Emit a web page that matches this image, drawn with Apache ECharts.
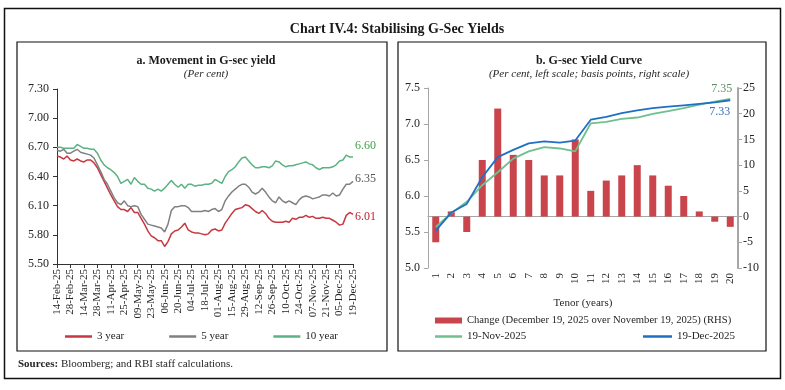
<!DOCTYPE html>
<html><head><meta charset="utf-8">
<script src="https://cdn.jsdelivr.net/npm/echarts@6/dist/echarts.min.js"></script>
<style>html,body{margin:0;padding:0;background:#fff}#c{width:785px;height:390px}</style>
</head><body><div id="c"></div><script>
// ---------- Panel a: daily-ish G-sec yields (per cent) ----------
const dates = ['14-Feb-25','18-Feb-25','21-Feb-25','25-Feb-25','28-Feb-25','04-Mar-25','07-Mar-25','11-Mar-25','14-Mar-25','18-Mar-25','21-Mar-25','25-Mar-25','28-Mar-25','01-Apr-25','04-Apr-25','08-Apr-25','11-Apr-25','15-Apr-25','18-Apr-25','22-Apr-25','25-Apr-25','29-Apr-25','02-May-25','06-May-25','09-May-25','13-May-25','16-May-25','20-May-25','23-May-25','27-May-25','30-May-25','03-Jun-25','06-Jun-25','10-Jun-25','13-Jun-25','17-Jun-25','20-Jun-25','24-Jun-25','27-Jun-25','01-Jul-25','04-Jul-25','08-Jul-25','11-Jul-25','15-Jul-25','18-Jul-25','22-Jul-25','25-Jul-25','29-Jul-25','01-Aug-25','05-Aug-25','08-Aug-25','12-Aug-25','15-Aug-25','19-Aug-25','22-Aug-25','26-Aug-25','29-Aug-25','02-Sep-25','05-Sep-25','09-Sep-25','12-Sep-25','16-Sep-25','19-Sep-25','23-Sep-25','26-Sep-25','30-Sep-25','03-Oct-25','07-Oct-25','10-Oct-25','14-Oct-25','17-Oct-25','21-Oct-25','24-Oct-25','28-Oct-25','31-Oct-25','04-Nov-25','07-Nov-25','11-Nov-25','14-Nov-25','18-Nov-25','21-Nov-25','25-Nov-25','28-Nov-25','02-Dec-25','05-Dec-25','09-Dec-25','12-Dec-25','16-Dec-25','19-Dec-25'];
const yield3 = [6.61,6.60,6.58,6.61,6.57,6.56,6.58,6.56,6.55,6.57, 6.57,6.54,6.49,6.42,6.35,6.28,6.21,6.15,6.09,6.06, 6.06,6.04,6.08,6.03,6.03,5.97,5.91,5.84,5.79,5.77, 5.74,5.74,5.68,5.73,5.81,5.84,5.85,5.88,5.92,5.85, 5.83,5.82,5.82,5.81,5.80,5.81,5.85,5.86,5.84,5.85, 5.92,5.97,6.02,6.06,6.07,6.08,6.11,6.10,6.07,6.04, 6.02,6.05,6.02,5.97,5.94,5.93,5.93,5.93,5.94,5.93, 5.97,5.96,5.98,5.98,6.00,5.98,5.99,5.97,5.97,5.98, 5.97,5.97,5.95,5.93,5.90,5.91,6.00,6.03,6.01];
const yield5 = [6.67,6.66,6.68,6.64,6.64,6.66,6.68,6.65,6.64,6.63, 6.62,6.59,6.52,6.45,6.37,6.32,6.25,6.18,6.13,6.11, 6.15,6.10,6.09,6.10,6.09,6.01,5.96,5.91,5.90,5.89, 5.88,5.87,5.83,5.91,6.05,6.09,6.09,6.10,6.10,6.08, 6.04,6.04,6.04,6.04,6.05,6.04,6.06,6.07,6.04,6.06, 6.15,6.20,6.24,6.27,6.30,6.32,6.32,6.29,6.24,6.22, 6.24,6.28,6.24,6.19,6.15,6.13,6.19,6.15,6.13,6.15, 6.13,6.11,6.16,6.19,6.20,6.19,6.17,6.18,6.19,6.21, 6.21,6.20,6.23,6.20,6.21,6.27,6.32,6.32,6.35];
const yield10 = [6.70,6.70,6.69,6.69,6.69,6.69,6.73,6.71,6.69,6.69, 6.68,6.68,6.64,6.57,6.52,6.49,6.47,6.44,6.40,6.33, 6.35,6.37,6.32,6.39,6.35,6.32,6.32,6.28,6.27,6.25, 6.27,6.25,6.28,6.32,6.36,6.32,6.29,6.32,6.28,6.32, 6.32,6.30,6.31,6.31,6.32,6.32,6.33,6.37,6.35,6.33, 6.40,6.45,6.47,6.50,6.55,6.59,6.60,6.56,6.52,6.49, 6.49,6.50,6.50,6.49,6.51,6.56,6.55,6.52,6.50,6.51, 6.51,6.52,6.53,6.54,6.55,6.53,6.52,6.49,6.47,6.49, 6.49,6.49,6.50,6.52,6.56,6.57,6.62,6.60,6.60];
const leftTicks = [5.50, 5.80, 6.10, 6.40, 6.70, 7.00, 7.30];

// ---------- Panel b: yield curve ----------
const tenors = ['1','2','3','4','5','6','7','8','9','10','11','12','13','14','15','16','17','18','19','20'];
const change = [-5,1,-3,11,21,12,11,8,8,15,5,7,8,10,8,6,4,1,-1,-2];
const nov19 = [5.57,5.76,5.92,6.15,6.33,6.52,6.62,6.68,6.66,6.62,7.01,7.03,7.07,7.09,7.14,7.18,7.22,7.27,7.31,7.35];
const dec19 = [5.52,5.77,5.89,6.26,6.54,6.64,6.73,6.76,6.74,6.77,7.06,7.10,7.15,7.19,7.22,7.24,7.26,7.28,7.30,7.33];

const F = '"Liberation Serif", "DejaVu Serif", serif';
const TXT = '#262626';
const RED = '#C8373F', GRAY = '#808080', GREEN = '#5CB282';
const NOVC = '#6FBF8F', DECC = '#1F6FC5', BARC = '#C9454B';

const chart = echarts.init(document.getElementById('c'), null, {renderer: 'canvas'});

const legText = {fontFamily: F, fontSize: 11, color: TXT};
const option = {
  backgroundColor: '#ffffff',
  animation: false,
  textStyle: {fontFamily: F, color: TXT},
  title: [
    {text: 'Chart IV.4: Stabilising G-Sec Yields', left: 392, top: 17, textAlign: 'center',
     textStyle: {fontFamily: F, fontSize: 14, fontWeight: 'bold', color: '#1a1a1a'}},
    {text: 'a. Movement in G-sec yield', left: 201, top: 50, textAlign: 'center',
     textStyle: {fontFamily: F, fontSize: 12, fontWeight: 'bold', color: '#1a1a1a'}},
    {text: '(Per cent)', left: 201, top: 64, textAlign: 'center',
     textStyle: {fontFamily: F, fontSize: 11, fontStyle: 'italic', fontWeight: 'normal', color: TXT}},
    {text: 'b. G-sec Yield Curve', left: 584, top: 50, textAlign: 'center',
     textStyle: {fontFamily: F, fontSize: 12, fontWeight: 'bold', color: '#1a1a1a'}},
    {text: '(Per cent, left scale; basis points, right scale)', left: 584, top: 64, textAlign: 'center',
     textStyle: {fontFamily: F, fontSize: 11, fontStyle: 'italic', fontWeight: 'normal', color: TXT}}
  ],
  graphic: [
    {type: 'rect', shape: {x: 4.5, y: 8.5, width: 776, height: 370}, style: {fill: 'none', stroke: '#111', lineWidth: 1.5}, silent: true},
    {type: 'rect', shape: {x: 17, y: 42, width: 370, height: 309}, style: {fill: 'none', stroke: '#111', lineWidth: 1.2}, silent: true},
    {type: 'rect', shape: {x: 398, y: 42, width: 368, height: 309}, style: {fill: 'none', stroke: '#111', lineWidth: 1.2}, silent: true},
    {type: 'text', left: 18, top: 359, style: {
      text: '{b|Sources:} Bloomberg; and RBI staff calculations.',
      font: '11px ' + F, fill: TXT,
      rich: {b: {fontWeight: 'bold', fontFamily: F, fontSize: 11, fill: TXT}}}}
  ],
  legend: [
    {data: ['3 year', '5 year', '10 year'], left: 65, top: 331, padding: 0, icon: 'rect',
     itemWidth: 27, itemHeight: 2.5, itemGap: 45, textStyle: legText},
    {data: ['Change (December 19, 2025 over November 19, 2025) (RHS)'], left: 435, top: 315, padding: 0, icon: 'rect',
     itemWidth: 27, itemHeight: 6, itemGap: 4, textStyle: {fontFamily: F, fontSize: 10.6, color: TXT}},
    {data: ['19-Nov-2025'], left: 435, top: 331, padding: 0, icon: 'rect',
     itemWidth: 27, itemHeight: 2.5, textStyle: legText},
    {data: ['19-Dec-2025'], left: 643, top: 331, padding: 0, icon: 'rect',
     itemWidth: 29, itemHeight: 2.5, textStyle: legText}
  ],
  grid: [
    {left: 57, top: 89, width: 296, height: 175, containLabel: false},
    {left: 428, top: 88, width: 310, height: 180, containLabel: false}
  ],
  xAxis: [
    {type: 'category', gridIndex: 0, data: dates, boundaryGap: false,
     axisLine: {lineStyle: {color: '#333', width: 1}},
     axisTick: {interval: 3, length: 4, lineStyle: {color: '#333'}},
     axisLabel: {interval: 3, rotate: 90, fontFamily: F, fontSize: 11, color: TXT, margin: 5}},
    {type: 'category', gridIndex: 1, data: tenors, boundaryGap: true,
     name: 'Tenor (years)', nameLocation: 'middle', nameGap: 30,
     nameTextStyle: {fontFamily: F, fontSize: 11, color: TXT},
     axisLine: {lineStyle: {color: '#A6A6A6', width: 1}},
     axisTick: {length: 4, lineStyle: {color: '#A6A6A6'}},
     axisLabel: {interval: 0, rotate: 90, fontFamily: F, fontSize: 11, color: TXT, margin: 5}}
  ],
  yAxis: [
    {type: 'value', gridIndex: 0, min: leftTicks[0], max: leftTicks[leftTicks.length - 1], interval: 0.3,
     axisLine: {show: true, lineStyle: {color: '#333', width: 1}},
     axisTick: {show: true, length: 4, lineStyle: {color: '#333'}},
     splitLine: {show: false},
     axisLabel: {fontFamily: F, fontSize: 12, color: TXT, margin: 8, formatter: v => v.toFixed(2)}},
    {type: 'value', gridIndex: 1, min: 5.0, max: 7.5, interval: 0.5, position: 'left',
     axisLine: {show: true, lineStyle: {color: '#A6A6A6', width: 1}},
     axisTick: {show: true, length: 4, lineStyle: {color: '#A6A6A6'}},
     splitLine: {show: false},
     axisLabel: {fontFamily: F, fontSize: 12, color: TXT, margin: 8, formatter: v => v.toFixed(1)}},
    {type: 'value', gridIndex: 1, min: -10, max: 25, interval: 5, position: 'right',
     axisLine: {show: true, lineStyle: {color: '#A6A6A6', width: 2}},
     axisTick: {show: true, length: 4, lineStyle: {color: '#A6A6A6'}},
     splitLine: {show: false},
     axisLabel: {fontFamily: F, fontSize: 12, color: TXT, margin: 5}}
  ],
  series: [
    {name: '3 year', type: 'line', xAxisIndex: 0, yAxisIndex: 0, data: yield3, symbol: 'none',
     lineStyle: {color: RED, width: 1.5}, itemStyle: {color: RED},
     endLabel: {show: true, formatter: p => p.value.toFixed(2), color: '#C0202A', fontFamily: F, fontSize: 12, distance: 0, offset: [2, 2]}},
    {name: '5 year', type: 'line', xAxisIndex: 0, yAxisIndex: 0, data: yield5, symbol: 'none',
     lineStyle: {color: GRAY, width: 1.5}, itemStyle: {color: GRAY},
     endLabel: {show: true, formatter: p => p.value.toFixed(2), color: '#555', fontFamily: F, fontSize: 12, distance: 0, offset: [2, -3]}},
    {name: '10 year', type: 'line', xAxisIndex: 0, yAxisIndex: 0, data: yield10, symbol: 'none',
     lineStyle: {color: GREEN, width: 1.5}, itemStyle: {color: GREEN},
     endLabel: {show: true, formatter: p => p.value.toFixed(2), color: '#3FA34D', fontFamily: F, fontSize: 12, distance: 0, offset: [2, -11]}},
    {name: 'Change (December 19, 2025 over November 19, 2025) (RHS)', type: 'bar', xAxisIndex: 1, yAxisIndex: 2,
     data: change, barWidth: 7, itemStyle: {color: BARC}},
    {name: '19-Nov-2025', type: 'line', xAxisIndex: 1, yAxisIndex: 1, data: nov19, symbol: 'none',
     lineStyle: {color: NOVC, width: 1.8}, itemStyle: {color: NOVC},
     endLabel: {show: true, formatter: p => p.value.toFixed(2), color: '#5E8F62', fontFamily: F, fontSize: 12, distance: 0, offset: [-19, -10]}},
    {name: '19-Dec-2025', type: 'line', xAxisIndex: 1, yAxisIndex: 1, data: dec19, symbol: 'none',
     lineStyle: {color: DECC, width: 1.8}, itemStyle: {color: DECC},
     endLabel: {show: true, formatter: p => p.value.toFixed(2), color: '#2E6FC0', fontFamily: F, fontSize: 12, distance: 0, offset: [-21, 12]}}
  ]
};
chart.setOption(option);
</script></body></html>
